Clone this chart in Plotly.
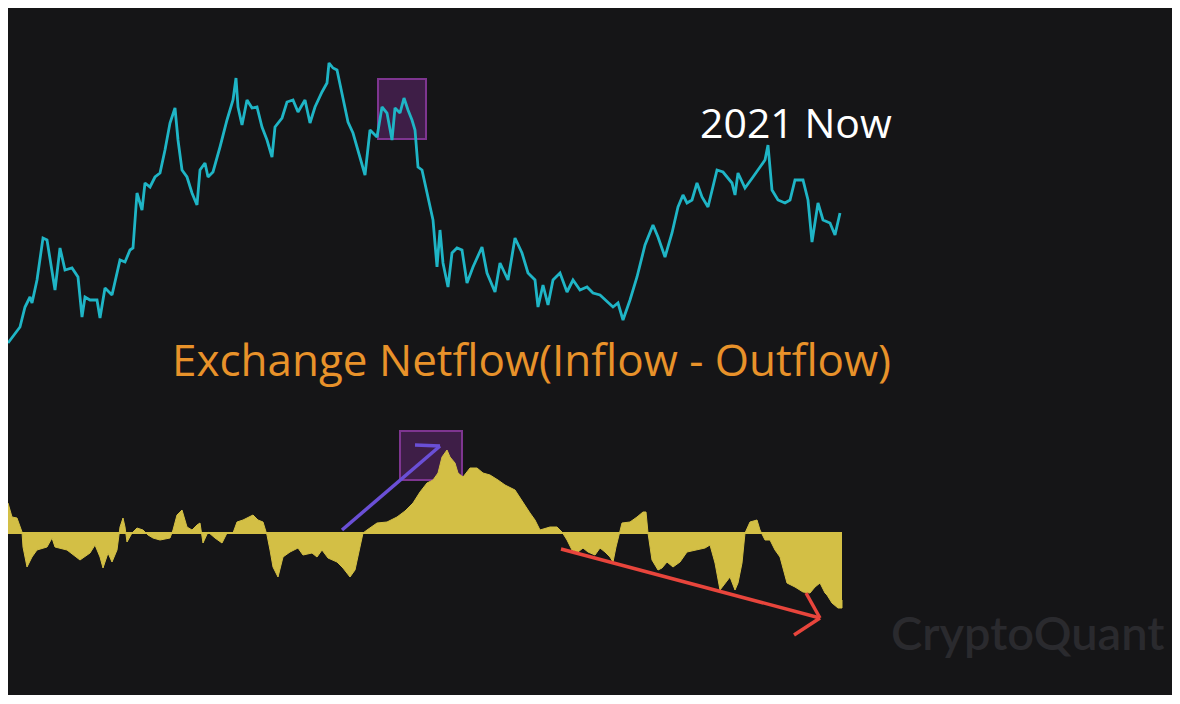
import plotly.graph_objects as go

# ---- data (arbitrary units) ----
price_day = [0, 12, 17, 22, 24, 29, 35, 39, 47, 52, 57, 64, 70, 74, 77, 82, 89, 92, 97, 104, 112, 117, 122, 125,
             129, 134, 137, 142, 147, 152, 157, 162, 167, 170, 174, 179, 184, 189, 192, 197, 200, 205, 212, 219,
             225, 228, 230, 234, 239, 244, 249, 254, 259, 264, 267, 274, 279, 285, 290, 297, 302, 307, 314, 319,
             321, 325, 329, 335, 340, 345, 352, 357, 362, 369, 374, 379, 384, 387, 392, 396, 400, 404, 407, 410,
             414, 419, 425, 429, 432, 435, 440, 444, 449, 454, 459, 465, 474, 479, 487, 492, 500, 507, 514, 520,
             527, 530, 535, 540, 545, 552, 559, 565, 572, 579, 585, 592, 599, 605, 610, 615, 622, 629, 637, 645,
             650, 657, 664, 670, 675, 679, 684, 689, 694, 700, 709, 715, 724, 727, 730, 737, 745, 752, 757, 760,
             764, 770, 777, 782, 787, 795, 800, 804, 810, 815, 822, 827, 832]
price = [352, 368, 388, 398, 392, 415, 457, 455, 405, 447, 425, 427, 418, 378, 398, 395, 395, 377, 407, 400,
         435, 433, 445, 447, 502, 485, 512, 508, 518, 522, 545, 572, 587, 555, 525, 518, 502, 490, 525, 532,
         518, 523, 548, 575, 595, 617, 588, 570, 595, 587, 588, 568, 555, 538, 568, 577, 593, 595, 583, 595,
         572, 588, 603, 612, 632, 627, 625, 598, 573, 562, 538, 520, 565, 558, 588, 582, 555, 587, 582, 597,
         585, 575, 565, 528, 525, 502, 475, 428, 465, 432, 408, 442, 447, 445, 412, 428, 448, 422, 403, 432,
         415, 457, 442, 422, 415, 388, 410, 390, 415, 422, 403, 415, 405, 408, 402, 400, 393, 388, 392, 375,
         395, 418, 450, 470, 458, 438, 462, 488, 500, 492, 495, 512, 498, 488, 525, 523, 512, 500, 522, 507,
         518, 528, 535, 550, 505, 495, 492, 495, 515, 515, 495, 453, 492, 475, 472, 460, 482]

flow_day = [0, 4, 9, 14, 15, 19, 24, 29, 39, 44, 47, 59, 72, 82, 87, 92, 95, 100, 104, 109, 112, 115, 117, 119,
            124, 129, 135, 140, 145, 152, 162, 165, 169, 174, 179, 184, 189, 192, 195, 200, 207, 214, 219, 225,
            229, 235, 245, 250, 255, 259, 262, 265, 270, 275, 282, 290, 295, 304, 309, 314, 320, 329, 335, 342,
            347, 352, 355, 359, 369, 379, 389, 397, 405, 412, 419, 425, 430, 434, 439, 442, 447, 450, 455, 462,
            469, 475, 482, 490, 497, 507, 515, 522, 527, 532, 542, 549, 554, 559, 564, 570, 575, 580, 587, 592,
            597, 602, 605, 608, 614, 622, 629, 635, 638, 640, 644, 650, 654, 659, 665, 672, 679, 689, 697, 702,
            707, 712, 717, 722, 727, 730, 734, 737, 742, 749, 752, 757, 762, 767, 772, 779, 787, 795, 802, 807,
            812, 817, 819, 824, 830, 834, 834]
flow = [30, 16, 15, 1, -14, -34, -24, -17, -14, -5, -14, -17, -27, -20, -12, -24, -35, -20, -29, -17, 6, 15,
        6, -9, 0, 5, 3, -2, -5, -7, -5, 3, 18, 23, 6, 3, 8, 10, -10, 1, -5, -10, 0, 0, 11, 13, 18, 13, 11, -2,
        -17, -34, -44, -24, -19, -15, -22, -20, -24, -17, -25, -29, -35, -44, -37, -14, 0, 3, 10, 11, 16, 22,
        30, 41, 50, 53, 60, 76, 83, 76, 70, 60, 56, 65, 65, 60, 58, 53, 48, 43, 30, 20, 13, 3, 6, 6, 1, -7,
        -17, -19, -15, -19, -22, -15, -19, -24, -29, -14, 10, 11, 16, 21, 21, 0, -27, -37, -35, -29, -34, -29,
        -19, -17, -15, -12, -30, -57, -50, -44, -57, -50, -30, 0, 11, 13, 3, -7, -7, -17, -24, -50, -54, -59,
        -60, -54, -50, -60, -62, -70, -75, -75, -67, 0]

title_text = "2021 Now"
metric_text = "Exchange Netflow(Inflow - Outflow)"
brand_text = "CryptoQuant"

# ---- helpers for decorations (page pixels -> axis units) ----
X0, YB = 8, 695


def ax(px):
    return px - X0


def ay(py):
    return YB - py


fig = go.Figure()
fig.add_trace(go.Scatter(x=price_day, y=price, mode="lines",
                         line=dict(color="#1fb5c6", width=2.8), hoverinfo="skip", showlegend=False))
fig.add_trace(go.Scatter(x=flow_day, y=flow, mode="lines", fill="tozeroy",
                         fillcolor="#d3bf45", line=dict(color="#d3bf45", width=1),
                         yaxis="y2", hoverinfo="skip", showlegend=False))

shapes = [
    # zero line of netflow
    dict(type="line", xref="x", yref="y2", x0=0, x1=834, y0=0, y1=0,
         line=dict(color="#d3bf45", width=2), layer="below"),
    # purple highlight boxes (under the traces)
    dict(type="rect", xref="x", yref="y", x0=ax(378), x1=ax(426), y0=ay(79), y1=ay(139),
         fillcolor="rgba(140,50,160,0.35)", line=dict(color="#7e3590", width=2), layer="below"),
    dict(type="rect", xref="x", yref="y", x0=ax(400), x1=ax(462), y0=ay(431), y1=ay(480),
         fillcolor="rgba(140,50,160,0.35)", line=dict(color="#7e3590", width=2), layer="below"),
    # purple arrow
    dict(type="line", xref="x", yref="y", x0=ax(342), y0=ay(530), x1=ax(440), y1=ay(446),
         line=dict(color="#6a4fd6", width=3.5)),
    dict(type="line", xref="x", yref="y", x0=ax(415), y0=ay(445), x1=ax(440), y1=ay(446),
         line=dict(color="#6a4fd6", width=3.5)),
    # red arrow
    dict(type="line", xref="x", yref="y", x0=ax(561), y0=ay(549), x1=ax(820), y1=ay(618),
         line=dict(color="#e8453c", width=3.5)),
    dict(type="line", xref="x", yref="y", x0=ax(806), y0=ay(593), x1=ax(820), y1=ay(618),
         line=dict(color="#e8453c", width=3.5)),
    dict(type="line", xref="x", yref="y", x0=ax(820), y0=ay(618), x1=ax(794), y1=ay(635),
         line=dict(color="#e8453c", width=3.5)),
]

annotations = [
    dict(x=ax(796), y=ay(122), xref="x", yref="y", text=title_text, showarrow=False,
         font=dict(family="Open Sans", size=41, color="#ffffff", weight=500)),
    dict(x=ax(531), y=ay(359), xref="x", yref="y", text=metric_text, showarrow=False,
         font=dict(family="Open Sans", size=44, color="#e8922a", weight=500)),
    dict(x=ax(1027), y=ay(632), xref="x", yref="y", text=brand_text, showarrow=False,
         font=dict(family="Lato", size=47, color="#2a2a2e", weight=600)),
]

fig.update_layout(
    width=1180, height=704,
    margin=dict(l=8, r=8, t=8, b=9, pad=0),
    paper_bgcolor="#ffffff", plot_bgcolor="#151517",
    xaxis=dict(range=[0, 1164], visible=False, fixedrange=True),
    yaxis=dict(range=[0, 687], visible=False, fixedrange=True),
    yaxis2=dict(range=[-162, 525], visible=False, overlaying="y", fixedrange=True),
    shapes=shapes, annotations=annotations,
)

fig.write_html("out.html", config={"displayModeBar": False},
               post_script="document.body.style.margin='0px';document.body.style.overflow='hidden';")
